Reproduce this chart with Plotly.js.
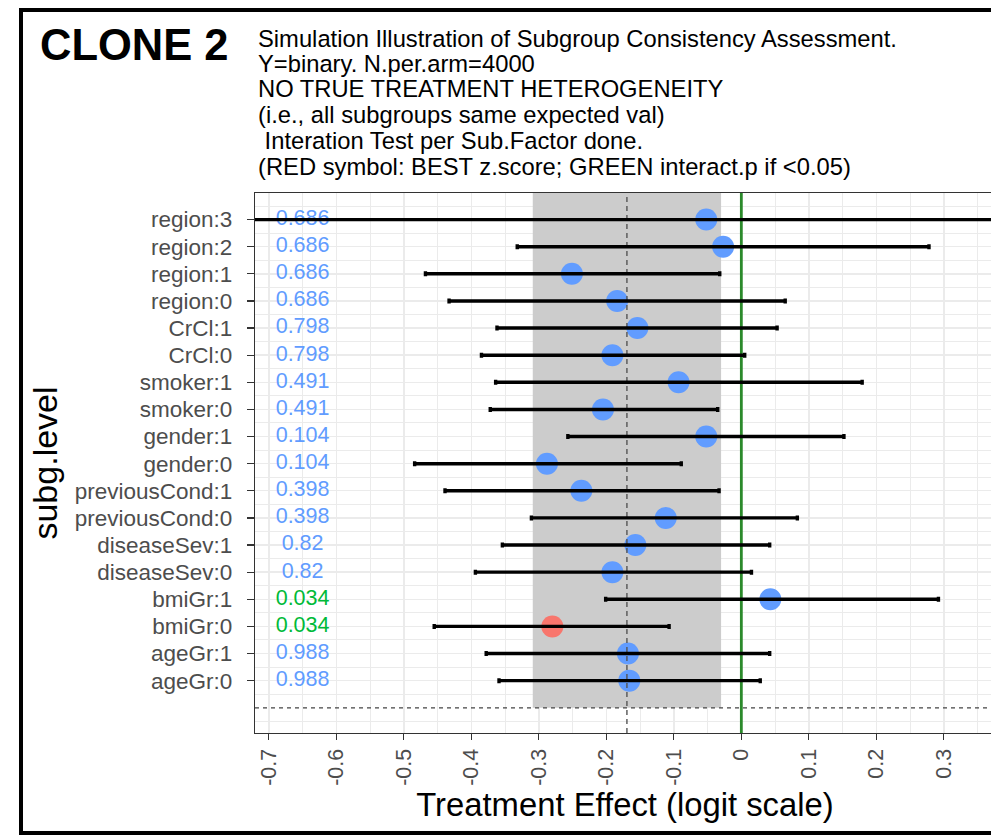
<!DOCTYPE html>
<html>
<head>
<meta charset="utf-8">
<script src="https://cdn.plot.ly/plotly-3.0.1.min.js"></script>
<style>
  html, body { margin: 0; padding: 0; background: #ffffff; overflow: hidden; }
  #chart { position: absolute; left: 0; top: 0; }
  #frame {
    position: absolute; left: 19px; top: 8px; width: 1100px; height: 827px;
    border: 4px solid #000; box-sizing: border-box; pointer-events: none; z-index: 5;
  }
</style>
</head>
<body>
<div id="chart"></div>
<div id="frame"></div>
<script>
// Subgroup levels, listed from the bottom of the forest plot to the top
const subgLevel = [
  'ageGr:0', 'ageGr:1', 'bmiGr:0', 'bmiGr:1', 'diseaseSev:0', 'diseaseSev:1',
  'previousCond:0', 'previousCond:1', 'gender:0', 'gender:1', 'smoker:0', 'smoker:1',
  'CrCl:0', 'CrCl:1', 'region:0', 'region:1', 'region:2', 'region:3'
];
// Estimated treatment effect per level (logit scale)
const estimate = [
  -0.166, -0.168, -0.280, 0.043, -0.191, -0.157,
  -0.112, -0.237, -0.288, -0.052, -0.205, -0.093,
  -0.191, -0.154, -0.184, -0.251, -0.027, -0.052
];
// 95% confidence limits
const ciLower = [
  -0.359, -0.378, -0.455, -0.201, -0.394, -0.354,
  -0.311, -0.439, -0.484, -0.257, -0.372, -0.364,
  -0.385, -0.362, -0.433, -0.468, -0.332, -0.800
];
const ciUpper = [
  0.028, 0.042, -0.107, 0.292, 0.015, 0.042,
  0.083, -0.033, -0.089, 0.152, -0.035, 0.179,
  0.005, 0.053, 0.065, -0.032, 0.278, 0.700
];
// Interaction test p-value of each subgrouping factor
const interactP = [
  0.988, 0.988, 0.034, 0.034, 0.82, 0.82,
  0.398, 0.398, 0.104, 0.104, 0.491, 0.491,
  0.798, 0.798, 0.686, 0.686, 0.686, 0.686
];
// Overall effect with its consistency band
const overallEffect = -0.1695;
const bandLow = -0.309;
const bandHigh = -0.030;
const nullEffect = 0;

// x-axis ticks
const xTickVals = [-0.7, -0.6, -0.5, -0.4, -0.3, -0.2, -0.1, 0, 0.1, 0.2, 0.3];
const xTickText = ['-0.7', '-0.6', '-0.5', '-0.4', '-0.3', '-0.2', '-0.1', '0', '0.1', '0.2', '0.3'];

const headline = 'CLONE 2';
const titleLines = [
  'Simulation Illustration of Subgroup Consistency Assessment.',
  'Y=binary. N.per.arm=4000',
  'NO TRUE TREATMENT HETEROGENEITY',
  '(i.e., all subgroups same expected val)',
  '\u00a0Interation Test per Sub.Factor done.',
  '(RED symbol: BEST z.score; GREEN interact.p if <0.05)'
];

// ---- layout geometry ----
const W = 1015, H = 836;
const M = { l: 255, r: 20, t: 193, b: 103 };
const plotW = W - M.l - M.r, plotH = H - M.t - M.b;
const xRange = [-0.7205, 0.3758];
const yRange = [-0.93, 18.98];
const pLabelX = -0.65;

const BLUE = '#619CFF', RED = '#F8766D', GREEN = '#00BA38';
const FONT = 'Liberation Sans, Arial, sans-serif';

const ypos = subgLevel.map((_, i) => i + 1);

// z-score of each estimate; the most favourable (lowest) is highlighted
const zScore = estimate.map((e, i) => e / ((ciUpper[i] - ciLower[i]) / (2 * 1.96)));
const bestIdx = zScore.indexOf(Math.min(...zScore));
const pointColor = estimate.map((_, i) => (i === bestIdx ? RED : BLUE));
const pColor = interactP.map(p => (p < 0.05 ? GREEN : BLUE));

const traces = [
  // consistency band around the overall effect
  {
    x: [bandLow, bandHigh, bandHigh, bandLow, bandLow],
    y: [0, 0, yRange[1], yRange[1], 0],
    mode: 'lines', fill: 'toself', fillcolor: '#cccccc',
    line: { width: 0, color: 'rgba(0,0,0,0)' }, hoverinfo: 'skip'
  },
  // null effect reference
  {
    x: [nullEffect, nullEffect], y: yRange, mode: 'lines',
    line: { color: '#2b8a2b', width: 2.8 }, hoverinfo: 'skip'
  },
  // baseline below the lowest level
  {
    x: xRange, y: [0, 0], mode: 'lines',
    line: { color: '#444444', width: 1.3, dash: '4px,4px' }, hoverinfo: 'skip'
  },
  // interaction p-values
  {
    x: ypos.map(() => pLabelX), y: ypos, mode: 'text',
    text: interactP.map(p => String(p)),
    textfont: { family: FONT, size: 21.5, color: pColor },
    textposition: 'middle center', hoverinfo: 'skip'
  },
  // point estimates
  {
    x: estimate, y: ypos, mode: 'markers',
    marker: { size: 22, color: pointColor, line: { width: 0 } },
    hoverinfo: 'skip'
  },
  // overall effect
  {
    x: [overallEffect, overallEffect], y: yRange, mode: 'lines',
    line: { color: '#555555', width: 1.4, dash: '5px,4px' }, hoverinfo: 'skip'
  },
  // confidence intervals
  {
    x: estimate, y: ypos, mode: 'markers',
    marker: { size: 1, color: 'rgba(0,0,0,0)' },
    error_x: {
      type: 'data', symmetric: false,
      array: estimate.map((e, i) => ciUpper[i] - e),
      arrayminus: estimate.map((e, i) => e - ciLower[i]),
      color: '#000000', thickness: 3.4, width: 2.5
    },
    hoverinfo: 'skip'
  }
];

const px2x = px => (px - M.l) / plotW;
const px2y = py => (H - M.b - py) / plotH;
const titleY = [38.5, 63, 88.5, 114.5, 140.5, 166.5];

const annotations = [
  {
    xref: 'paper', yref: 'paper', x: px2x(38), y: px2y(45),
    xanchor: 'left', yanchor: 'middle', showarrow: false,
    text: '<b>' + headline + '</b>',
    font: { family: FONT, size: 43.5, color: '#000000' }
  }
].concat(titleLines.map((t, i) => ({
  xref: 'paper', yref: 'paper', x: px2x(256), y: px2y(titleY[i]),
  xanchor: 'left', yanchor: 'middle', showarrow: false, text: t,
  font: { family: FONT, size: 23.75, color: '#000000' }
})));

const layout = {
  width: W, height: H, margin: M,
  paper_bgcolor: 'rgba(0,0,0,0)', plot_bgcolor: '#ffffff',
  showlegend: false, hovermode: false,
  font: { family: FONT },
  xaxis: {
    range: xRange, tickmode: 'array', tickvals: xTickVals, ticktext: xTickText,
    tickangle: -90, ticks: 'outside', ticklen: 6, tickwidth: 1.3, tickcolor: '#333333',
    tickfont: { family: FONT, size: 21.5, color: '#4D4D4D' },
    showgrid: true, gridcolor: '#EBEBEB', gridwidth: 1.4,
    minor: { dtick: 0.05, tick0: 0, showgrid: true, gridcolor: '#EBEBEB', gridwidth: 1 },
    zeroline: false, showline: true, mirror: true, linecolor: '#333333', linewidth: 1.2,
    title: { text: 'Treatment Effect (logit scale)', font: { family: FONT, size: 32.8, color: '#000000' }, standoff: 8 }
  },
  yaxis: {
    range: yRange, tickmode: 'array', tickvals: ypos, ticktext: subgLevel,
    ticks: 'outside', ticklen: 7, tickwidth: 1.3, tickcolor: '#333333',
    ticklabelstandoff: 10,
    tickfont: { family: FONT, size: 22.5, color: '#4D4D4D' },
    showgrid: true, gridcolor: '#EBEBEB', gridwidth: 1.4,
    minor: { dtick: 1, tick0: 0.5, showgrid: true, gridcolor: '#EBEBEB', gridwidth: 1 },
    zeroline: false, showline: true, mirror: true, linecolor: '#333333', linewidth: 1.2,
    title: { text: 'subg.level', font: { family: FONT, size: 34, color: '#000000' }, standoff: 6 }
  },
  annotations: annotations
};

Plotly.newPlot('chart', traces, layout, { staticPlot: true, displayModeBar: false });
</script>
</body>
</html>
